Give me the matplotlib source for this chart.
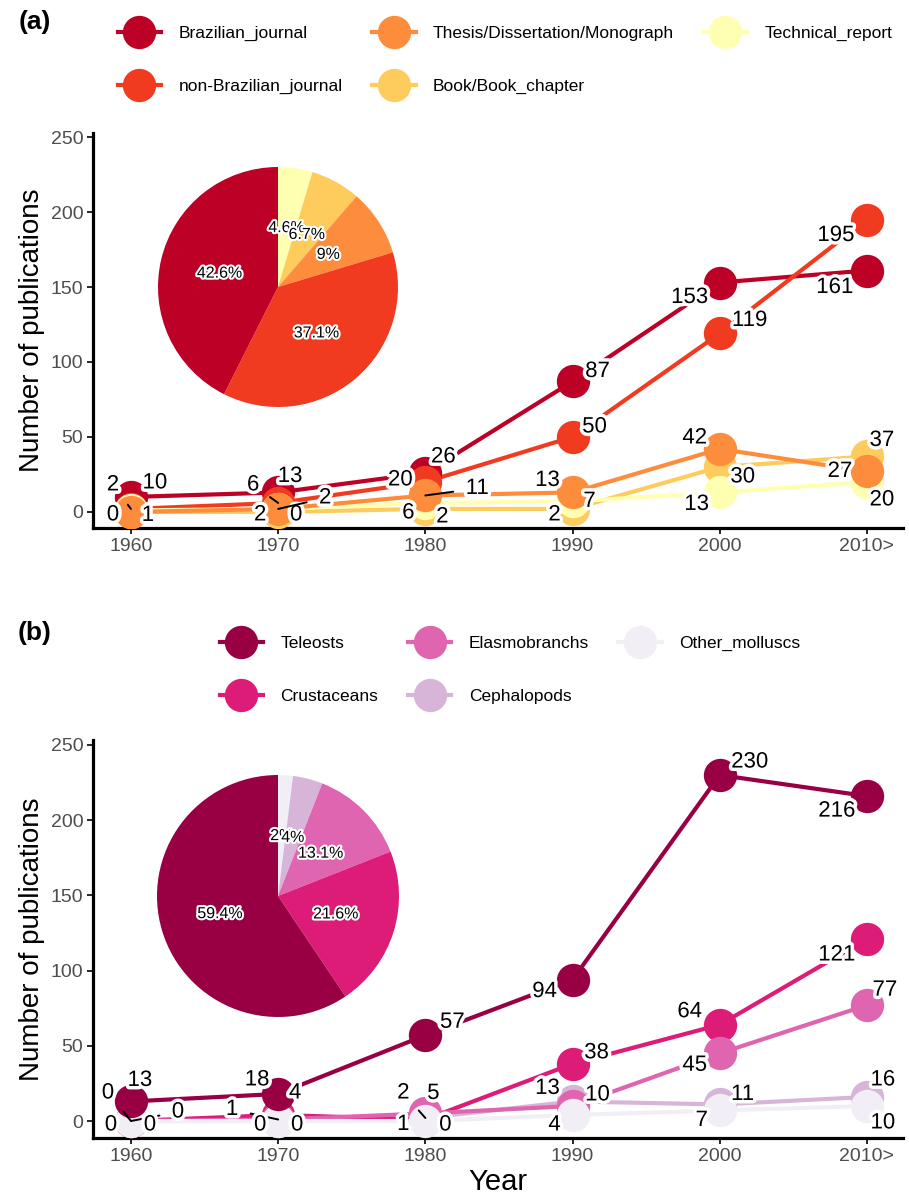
import numpy as np
import matplotlib
matplotlib.use('Agg')
import matplotlib.pyplot as plt
import matplotlib.patheffects as pe
from matplotlib.lines import Line2D

plt.rcParams['font.family'] = ['Liberation Sans', 'DejaVu Sans']

years = ['1960', '1970', '1980', '1990', '2000', '2010>']

# (a) type of publication
names_a = ['Brazilian_journal', 'non-Brazilian_journal',
           'Thesis/Dissertation/Monograph', 'Book/Book_chapter', 'Technical_report']
brazilian_journal = [10, 13, 26, 87, 153, 161]
non_brazilian_journal = [2, 6, 20, 50, 119, 195]
thesis = [0, 2, 11, 13, 42, 27]
book = [0, 0, 2, 2, 30, 37]
technical_report = [1, 2, 6, 7, 13, 20]
colors_a = ['#BD0026', '#F03B20', '#FD8D3C', '#FECC5C', '#FFFFB2']

# (b) taxonomic group
names_b = ['Teleosts', 'Crustaceans', 'Elasmobranchs', 'Cephalopods', 'Other_molluscs']
teleosts = [13, 18, 57, 94, 230, 216]
crustaceans = [0, 4, 1, 38, 64, 121]
elasmobranchs = [0, 1, 5, 10, 45, 77]
cephalopods = [0, 0, 2, 13, 11, 16]
other_molluscs = [0, 0, 0, 4, 7, 10]
colors_b = ['#980043', '#DD1C77', '#DF65B0', '#D7B5D8', '#F1EEF6']

# drawing order (alphabetical, as ggplot groups them)
order_a = [3, 0, 1, 4, 2]
order_b = [3, 1, 2, 4, 0]

# label offsets in pixels (dx, dy down), 'L' = leader segment
offs_a = [
    [(24, -14), (12, -16), (18, -16), (25, -10), (-30, 15), (-32, 17)],
    [(-18, -24, 'L'), (-25, -18, 'L'), (-25, -2), (22, -10), (30, -13), (-31, 16)],
    [(-18, 3), (-18, 6), (52, -7, 'L'), (-25, -12), (-25, -11), (-27, 0)],
    [None, (18, 3), (17, 8), (-18, 6), (23, 10), (15, -16)],
    [(17, 5), (47, -11, 'L'), (-17, 10), (17, 0), (-23, 12), (15, 18)],
]
offs_b = [
    [(9, -21), (-21, -14), (27, -13), (-28, 12), (30, -13), (-30, 15)],
    [(47, -9, 'L'), (17, -22), (-22, 5), (24, -11), (-30, -13), (-30, 16)],
    [(-23, -28, 'L'), (-46, -10, 'L'), (8, -20), (25, -11), (-25, 12), (18, -15)],
    [(-20, 4), (-18, 4), (-22, -25, 'L'), (-25, -13), (23, -10), (16, -17)],
    [(19, 4), (19, 4), (20, 4), (-18, 10), (-18, 10), (16, 17)],
]

fig = plt.figure(figsize=(9.09, 12.01), dpi=100)
halo = [pe.withStroke(linewidth=5, foreground='white')]


def draw_panel(ax, series, colors, order, offs, ylim):
    x = np.arange(len(years))
    for i in order:
        ax.plot(x, series[i], color=colors[i], lw=3, zorder=2)
    for i in order:
        ax.plot(x, series[i], 'o', color=colors[i], ms=24, mew=0, zorder=3)
    for i, s in enumerate(series):
        for j, v in enumerate(s):
            o = offs[i][j]
            if o is None:
                continue
            ap = None
            if len(o) > 2:
                ap = dict(arrowstyle='-', color='black', lw=1.4, shrinkA=7, shrinkB=0)
            ax.annotate(str(v), (x[j], v), xytext=(o[0] * 0.72, -o[1] * 0.72),
                        textcoords='offset points', ha='center', va='center',
                        fontsize=16, zorder=5, arrowprops=ap, path_effects=halo)
    ax.set_xlim(-0.258, 5.245)
    ax.set_ylim(*ylim)
    ax.set_xticks(x)
    ax.set_xticklabels(years)
    ax.set_yticks([0, 50, 100, 150, 200, 250])
    for sp in ['top', 'right']:
        ax.spines[sp].set_visible(False)
    for sp in ['left', 'bottom']:
        ax.spines[sp].set_linewidth(2.3)
    ax.tick_params(length=4, width=1.2, labelsize=14, labelcolor='#4D4D4D', pad=3)
    ax.set_ylabel('Number of publications', fontsize=20, labelpad=4)


def draw_pie(rect, series, colors):
    pax = fig.add_axes(rect)
    totals = [sum(s) for s in series][::-1]
    wedges, texts, auto = pax.pie(totals, colors=colors[::-1], startangle=90,
                                  counterclock=False, radius=1,
                                  autopct=lambda p: f'{round(p, 1):g}%',
                                  pctdistance=0.5, textprops=dict(fontsize=11.5))
    for t in auto:
        t.set_path_effects([pe.withStroke(linewidth=3, foreground='white')])
    pax.set_xlim(-1, 1)
    pax.set_ylim(-1, 1)
    pax.set_aspect('equal')
    pax.axis('off')


def draw_legend(names, colors, cx, cy):
    hs = [Line2D([0], [0], color=c, lw=3, marker='o', ms=24, mew=0) for c in colors]
    fig.legend(hs, names, loc='center', bbox_to_anchor=(cx, cy), ncol=3, frameon=False,
               fontsize=12.5, handlelength=2.5, handletextpad=1.0, columnspacing=1.7,
               labelspacing=2.15)


ax_a = fig.add_axes([93 / 909, 1 - 528 / 1201, 810 / 909, 395 / 1201])
draw_panel(ax_a, [brazilian_journal, non_brazilian_journal, thesis, book, technical_report],
           colors_a, order_a, offs_a, (-10.7, 252.7))
draw_pie([158 / 909, 1 - 407 / 1201, 240 / 909, 240 / 1201],
         [brazilian_journal, non_brazilian_journal, thesis, book, technical_report], colors_a)
draw_legend(names_a, colors_a, 505 / 909, 1 - 60 / 1201)
fig.text(35 / 909, 1 - 22 / 1201, '(a)', fontsize=19, fontweight='bold', ha='center', va='center')

ax_b = fig.add_axes([93 / 909, 1 - 1138 / 1201, 810 / 909, 398 / 1201])
draw_panel(ax_b, [teleosts, crustaceans, elasmobranchs, cephalopods, other_molluscs],
           colors_b, order_b, offs_b, (-11.3, 253.3))
ax_b.set_xlabel('Year', fontsize=21, labelpad=2)
draw_pie([157 / 909, 1 - 1017 / 1201, 242 / 909, 242 / 1201],
         [teleosts, crustaceans, elasmobranchs, cephalopods, other_molluscs], colors_b)
draw_legend(names_b, colors_b, 510 / 909, 1 - 670 / 1201)
fig.text(35 / 909, 1 - 633 / 1201, '(b)', fontsize=19, fontweight='bold', ha='center', va='center')

fig.savefig('out.png', dpi=100)
